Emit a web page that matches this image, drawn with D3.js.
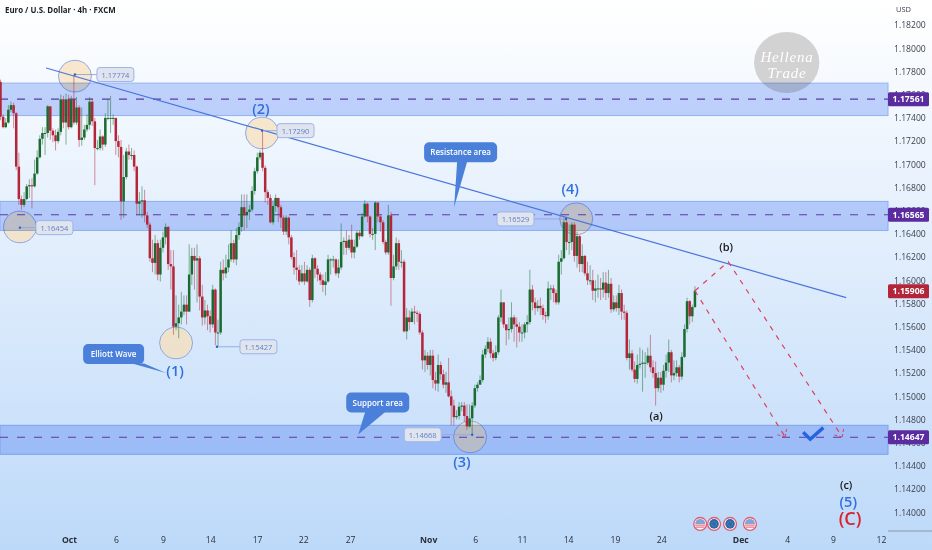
<!DOCTYPE html>
<html>
<head>
<meta charset="utf-8">
<style>
  html, body { margin: 0; padding: 0; background: #fff; overflow: hidden; }
  svg text { font-family: "Open Sans", sans-serif; }
</style>
<script src="https://d3js.org/d3.v7.min.js"></script>
</head>
<body>
<div id="chart"></div>
<script>
// candle values, one entry per 4h bar
const firstOpen = 1.1771;
const closes = [
  1.1741,1.1732,1.1736,1.1747,1.1751,1.1744,1.1698,1.1670,1.1665,1.1670,
  1.1681,1.1682,1.1681,1.1692,1.1706,1.1722,1.1727,1.1727,1.1750,1.1729,
  1.1725,1.1720,1.1728,1.1756,1.1736,1.1756,1.1732,1.1756,1.1736,1.1749,
  1.1721,1.1723,1.1730,1.1734,1.1754,1.1737,1.1714,1.1714,1.1724,1.1717,
  1.1740,1.1740,1.1740,1.1740,1.1720,1.1715,1.1668,1.1689,1.1711,1.1708,
  1.1708,1.1698,1.1666,1.1668,1.1669,1.1656,1.1648,1.1619,1.1615,1.1632,
  1.1605,1.1628,1.1637,1.1646,1.1614,1.1612,1.1560,1.1563,1.1568,1.1573,
  1.1579,1.1573,1.1605,1.1621,1.1617,1.1619,1.1586,1.1568,1.1574,1.1569,
  1.1562,1.1592,1.1555,1.1555,1.1609,1.1606,1.1611,1.1618,1.1632,1.1618,
  1.1639,1.1646,1.1663,1.1656,1.1659,1.1661,1.1677,1.1694,1.1706,1.1710,
  1.1697,1.1676,1.1671,1.1650,1.1664,1.1671,1.1663,1.1654,1.1642,1.1654,
  1.1637,1.1620,1.1611,1.1609,1.1599,1.1606,1.1599,1.1609,1.1583,1.1619,
  1.1610,1.1605,1.1600,1.1596,1.1599,1.1618,1.1618,1.1618,1.1606,1.1611,
  1.1633,1.1634,1.1628,1.1635,1.1624,1.1629,1.1641,1.1638,1.1655,1.1666,
  1.1655,1.1640,1.1640,1.1667,1.1655,1.1650,1.1633,1.1624,1.1656,1.1602,
  1.1612,1.1632,1.1616,1.1616,1.1556,1.1568,1.1564,1.1573,1.1572,1.1571,
  1.1555,1.1531,1.1535,1.1527,1.1535,1.1514,1.1511,1.1527,1.1519,1.1510,
  1.1512,1.1500,1.1492,1.1482,1.1483,1.1491,1.1492,1.1483,1.1474,1.1481,
  1.1492,1.1507,1.1510,1.1514,1.1536,1.1541,1.1547,1.1537,1.1533,1.1538,
  1.1568,1.1581,1.1562,1.1557,1.1558,1.1568,1.1562,1.1560,1.1555,1.1555,
  1.1562,1.1564,1.1592,1.1581,1.1576,1.1578,1.1576,1.1570,1.1569,1.1593,
  1.1593,1.1589,1.1581,1.1616,1.1619,1.1650,1.1633,1.1633,1.1648,1.1621,
  1.1638,1.1614,1.1621,1.1606,1.1600,1.1600,1.1591,1.1593,1.1593,1.1592,
  1.1598,1.1589,1.1597,1.1575,1.1581,1.1576,1.1589,1.1573,1.1572,1.1533,
  1.1537,1.1523,1.1515,1.1527,1.1528,1.1529,1.1529,1.1535,1.1525,1.1520,
  1.1507,1.1516,1.1510,1.1522,1.1529,1.1538,1.1518,1.1520,1.1525,1.1517,
  1.1534,1.1558,1.1582,1.1569,1.1577,1.1591
];
const highs = [
  1.1773,1.1743,1.1740,1.1751,1.1754,1.1753,1.1745,1.1710,1.1673,1.1676,
  1.1683,1.1687,1.1688,1.1704,1.1712,1.1725,1.1732,1.1732,1.1751,1.1747,
  1.1731,1.1730,1.1731,1.1760,1.1759,1.1761,1.1760,1.1759,1.1777,1.1758,
  1.1751,1.1749,1.1734,1.1743,1.1758,1.1757,1.1740,1.1721,1.1730,1.1725,
  1.1744,1.1756,1.1759,1.1743,1.1725,1.1725,1.1721,1.1708,1.1714,1.1717,
  1.1714,1.1712,1.1699,1.1676,1.1681,1.1678,1.1659,1.1650,1.1635,1.1639,
  1.1635,1.1635,1.1642,1.1649,1.1647,1.1626,1.1626,1.1587,1.1579,1.1590,
  1.1587,1.1587,1.1631,1.1628,1.1628,1.1631,1.1621,1.1596,1.1583,1.1579,
  1.1574,1.1596,1.1593,1.1566,1.1616,1.1618,1.1622,1.1631,1.1643,1.1635,
  1.1645,1.1650,1.1674,1.1674,1.1674,1.1665,1.1681,1.1697,1.1710,1.1712,
  1.1729,1.1699,1.1678,1.1674,1.1669,1.1674,1.1671,1.1665,1.1656,1.1656,
  1.1655,1.1639,1.1624,1.1626,1.1613,1.1613,1.1616,1.1613,1.1611,1.1622,
  1.1620,1.1613,1.1607,1.1605,1.1607,1.1622,1.1619,1.1621,1.1619,1.1618,
  1.1649,1.1637,1.1643,1.1639,1.1648,1.1635,1.1643,1.1643,1.1658,1.1669,
  1.1667,1.1656,1.1645,1.1668,1.1667,1.1656,1.1652,1.1635,1.1665,1.1659,
  1.1622,1.1637,1.1635,1.1626,1.1618,1.1576,1.1574,1.1576,1.1578,1.1574,
  1.1573,1.1557,1.1540,1.1538,1.1540,1.1540,1.1521,1.1536,1.1530,1.1523,
  1.1521,1.1533,1.1505,1.1497,1.1488,1.1495,1.1495,1.1495,1.1493,1.1493,
  1.1495,1.1510,1.1512,1.1518,1.1540,1.1544,1.1551,1.1550,1.1540,1.1544,
  1.1570,1.1592,1.1581,1.1562,1.1568,1.1581,1.1570,1.1568,1.1564,1.1562,
  1.1564,1.1570,1.1609,1.1596,1.1585,1.1583,1.1585,1.1579,1.1573,1.1599,
  1.1596,1.1596,1.1592,1.1622,1.1626,1.1654,1.1654,1.1648,1.1650,1.1650,
  1.1642,1.1639,1.1631,1.1622,1.1616,1.1613,1.1609,1.1600,1.1605,1.1602,
  1.1607,1.1607,1.1609,1.1602,1.1587,1.1587,1.1596,1.1592,1.1579,1.1574,
  1.1549,1.1540,1.1530,1.1536,1.1542,1.1540,1.1538,1.1542,1.1553,1.1531,
  1.1530,1.1521,1.1521,1.1527,1.1536,1.1549,1.1540,1.1531,1.1531,1.1527,
  1.1538,1.1562,1.1585,1.1583,1.1579,1.1595
];
const lows = [
  1.1738,1.1731,1.1731,1.1735,1.1745,1.1731,1.1695,1.1665,1.1661,1.1663,
  1.1669,1.1671,1.1662,1.1680,1.1691,1.1705,1.1717,1.1708,1.1723,1.1721,
  1.1719,1.1712,1.1718,1.1725,1.1731,1.1717,1.1730,1.1731,1.1734,1.1734,
  1.1715,1.1716,1.1721,1.1728,1.1730,1.1733,1.1682,1.1712,1.1712,1.1712,
  1.1715,1.1738,1.1727,1.1734,1.1708,1.1706,1.1652,1.1654,1.1687,1.1704,
  1.1704,1.1694,1.1656,1.1656,1.1654,1.1650,1.1645,1.1616,1.1607,1.1605,
  1.1600,1.1599,1.1624,1.1631,1.1609,1.1592,1.1553,1.1557,1.1550,1.1562,
  1.1570,1.1562,1.1573,1.1596,1.1592,1.1581,1.1574,1.1561,1.1562,1.1557,
  1.1555,1.1559,1.1544,1.1543,1.1553,1.1600,1.1602,1.1607,1.1616,1.1615,
  1.1613,1.1635,1.1642,1.1643,1.1645,1.1652,1.1659,1.1674,1.1692,1.1704,
  1.1694,1.1667,1.1665,1.1649,1.1648,1.1659,1.1650,1.1645,1.1639,1.1639,
  1.1631,1.1618,1.1605,1.1600,1.1596,1.1598,1.1596,1.1598,1.1577,1.1581,
  1.1602,1.1599,1.1596,1.1590,1.1587,1.1598,1.1605,1.1611,1.1604,1.1602,
  1.1609,1.1622,1.1622,1.1626,1.1619,1.1619,1.1628,1.1635,1.1637,1.1654,
  1.1650,1.1637,1.1635,1.1626,1.1650,1.1642,1.1631,1.1622,1.1622,1.1578,
  1.1600,1.1609,1.1609,1.1611,1.1555,1.1549,1.1557,1.1564,1.1562,1.1564,
  1.1553,1.1523,1.1521,1.1523,1.1518,1.1507,1.1505,1.1504,1.1514,1.1507,
  1.1503,1.1499,1.1475,1.1475,1.1480,1.1480,1.1487,1.1478,1.1471,1.1473,
  1.1467,1.1490,1.1504,1.1510,1.1512,1.1533,1.1538,1.1533,1.1530,1.1531,
  1.1536,1.1564,1.1559,1.1544,1.1549,1.1555,1.1547,1.1542,1.1547,1.1547,
  1.1550,1.1555,1.1562,1.1574,1.1570,1.1573,1.1570,1.1566,1.1563,1.1566,
  1.1583,1.1581,1.1579,1.1579,1.1605,1.1618,1.1626,1.1622,1.1626,1.1616,
  1.1611,1.1607,1.1607,1.1604,1.1596,1.1596,1.1583,1.1581,1.1585,1.1583,
  1.1585,1.1583,1.1585,1.1572,1.1573,1.1573,1.1570,1.1566,1.1566,1.1531,
  1.1523,1.1521,1.1512,1.1511,1.1524,1.1504,1.1516,1.1527,1.1521,1.1516,
  1.1492,1.1504,1.1503,1.1505,1.1516,1.1521,1.1512,1.1514,1.1517,1.1512,
  1.1514,1.1533,1.1555,1.1562,1.1564,1.1576
];

// price axis
const priceTicks = [1.14,1.142,1.144,1.146,1.148,1.15,1.152,1.154,1.156,1.158,1.16,1.162,1.164,1.166,1.168,1.17,1.172,1.174,1.176,1.178,1.18,1.182];
const lastPrice = 1.15906;

// time axis, bar positions of the date labels
const dateBars = [26.1,44.1,62,80,97.9,115.5,133.4,163.2,181.1,199,216.6,234.5,252.1,282.3,300.2,317.7,336];
const dateLabels = ["Oct","6","9","14","17","22","27","Nov","6","11","14","19","24","Dec","4","9","12"];
const monthLabels = ["Oct","Nov","Dec"];

// horizontal supply / demand areas
const zoneTops = [1.1770,1.1668,1.1475];
const zoneBottoms = [1.1742,1.1643,1.1450];
const zoneLevels = [1.17561,1.16565,1.14647];

// falling trendline
const trendBars = [17.4,322.7];
const trendPrices = [1.1783,1.1585];

// swing points with their price tags
const pivotBars = [28.4,7.4,82.6,99.8,180,215.8];
const pivotPrices = [1.17774,1.16454,1.15427,1.1729,1.14668,1.16529];
const ringBars = [28.4,7.4,67,99.8,179.2,219.7];
const ringPrices = [1.1776,1.1646,1.1546,1.1727,1.1465,1.1653];

// wave counts
const waveTexts = ["(1)","(2)","(3)","(4)","(5)","(a)","(b)","(c)","(C)"];
const waveBars = [66.6,99.4,176.1,217.4,323.5,250.2,276.9,322.7,324.2];
const wavePrices = [1.1522,1.1748,1.1443,1.1679,1.1409,1.1484,1.1630,1.1424,1.1393];

// projected path
const forecastBars = [265,277.7,321.2];
const forecastPrices = [1.1591,1.1616,1.1465];
const forecastBars2 = [265,299.4];
const forecastPrices2 = [1.1591,1.1465];
const checkBars = [306.3,309,314];
const checkPrices = [1.1469,1.1463,1.1473];

// callouts point at these spots
const calloutTexts = ["Elliott Wave","Resistance area","Support area"];
const calloutBars = [63.2,173.1,136.5];
const calloutPrices = [1.1520,1.1663,1.1467];

// economic event flags
const eventBars = [267,272.3,278.4,286];
const eventPrice = 1.1390;

const width = 932, height = 550, chartRight = 888;
const green = "#1a6b2f", red = "#b3263a", zoneLine = "#9cb8f4";

const x = d3.scaleLinear().domain([0, 336]).range([0.5, 881]);
const y = d3.scaleLinear().domain([1.14, 1.182]).range([512.3, 25.1]);

const svg = d3.select("#chart").append("svg")
  .attr("width", width)
  .attr("height", height)
  .style("display", "block");

const grad = svg.append("defs").append("linearGradient")
  .attr("id", "bg").attr("x1", 0).attr("x2", 0).attr("y1", 0).attr("y2", 1);
grad.append("stop").attr("offset", "0%").attr("stop-color", "#ffffff");
grad.append("stop").attr("offset", "100%").attr("stop-color", "#bdd9f9");

svg.append("rect").attr("width", width).attr("height", height).attr("fill", "url(#bg)");

// watermark
svg.append("ellipse")
  .attr("cx", 786.7).attr("cy", 62.5).attr("rx", 32.7).attr("ry", 30.5)
  .attr("fill", "#d2d2d2");
svg.selectAll(".mark").data(["Hellena", "Trade"]).enter().append("text")
  .attr("x", 787).attr("y", (d, i) => 62 + i * 16)
  .attr("text-anchor", "middle")
  .attr("fill", "#fff")
  .attr("font-size", 15)
  .attr("font-style", "italic")
  .attr("letter-spacing", 0.8)
  .style("font-family", "'Liberation Serif', serif")
  .text(d => d);

// rings go under the areas so the areas tint them
svg.selectAll(".ring").data(ringBars).enter().append("ellipse")
  .attr("cx", d => x(d))
  .attr("cy", (d, i) => y(ringPrices[i]))
  .attr("rx", 16.5).attr("ry", 15.8)
  .attr("fill", "#f8dfb8")
  .attr("fill-opacity", 0.72)
  .attr("stroke", "#8fa8e8");

// areas
zoneTops.forEach((top, i) => {
  svg.append("rect")
    .attr("x", 0).attr("width", chartRight)
    .attr("y", y(top))
    .attr("height", y(zoneBottoms[i]) - y(top))
    .attr("fill", "#c6d6fc")
    .attr("stroke", zoneLine)
    .attr("stroke-width", 1)
    .style("mix-blend-mode", "multiply");
  svg.append("line")
    .attr("x1", 0).attr("x2", chartRight)
    .attr("y1", y(zoneLevels[i])).attr("y2", y(zoneLevels[i]))
    .attr("stroke", "#5b3aa8")
    .attr("stroke-width", 1.2)
    .attr("stroke-dasharray", "8,9");
});

// wicks then bodies
const opens = closes.map((c, i) => i ? closes[i - 1] : firstOpen);
const candle = svg.selectAll(".candle").data(closes).enter().append("g");
candle.append("line")
  .attr("x1", (d, i) => x(i)).attr("x2", (d, i) => x(i))
  .attr("y1", (d, i) => y(highs[i])).attr("y2", (d, i) => y(lows[i]))
  .attr("stroke", (d, i) => d >= opens[i] ? green : red)
  .attr("stroke-opacity", 0.5)
  .attr("stroke-width", 1);
candle.append("rect")
  .attr("x", (d, i) => x(i) - 1.25)
  .attr("width", 2.5)
  .attr("y", (d, i) => y(Math.max(d, opens[i])))
  .attr("height", (d, i) => Math.max(1, Math.abs(y(d) - y(opens[i]))))
  .attr("fill", (d, i) => d >= opens[i] ? green : red);

// trendline
const line = d3.line().x(d => x(d[0])).y(d => y(d[1]));
svg.append("path")
  .attr("d", line(d3.zip(trendBars, trendPrices)))
  .attr("fill", "none")
  .attr("stroke", "#4a74dc")
  .attr("stroke-width", 1.2);

// projected legs
[[forecastBars, forecastPrices], [forecastBars2, forecastPrices2]].forEach(leg => {
  const pts = d3.zip(leg[0], leg[1]);
  svg.append("path")
    .attr("d", line(pts))
    .attr("fill", "none")
    .attr("stroke", "#e0405f")
    .attr("stroke-width", 1.2)
    .attr("stroke-dasharray", "5,6");
  // little open arrow at the end
  const a = pts[pts.length - 2], b = pts[pts.length - 1];
  const ang = Math.atan2(y(b[1]) - y(a[1]), x(b[0]) - x(a[0]));
  [-0.75, 0.75].forEach(o => {
    svg.append("line")
      .attr("x1", x(b[0])).attr("y1", y(b[1]))
      .attr("x2", x(b[0]) - 9 * Math.cos(ang + o))
      .attr("y2", y(b[1]) - 9 * Math.sin(ang + o))
      .attr("stroke", "#e0405f")
      .attr("stroke-dasharray", "3,2");
  });
});

svg.append("path")
  .attr("d", line(d3.zip(checkBars, checkPrices)))
  .attr("fill", "none")
  .attr("stroke", "#2563e0")
  .attr("stroke-width", 3.4);

// price tags on the swing points
const tagDx = [22, 16, 23, 15, -68, -69];
const tagW = 37, tagH = 14;
pivotBars.forEach((b, i) => {
  const px = x(b), py = y(pivotPrices[i]);
  const left = px + tagDx[i];
  svg.append("line")
    .attr("x1", px).attr("y1", py)
    .attr("x2", tagDx[i] > 0 ? left : left + tagW).attr("y2", py)
    .attr("stroke", "#8fa8d8")
    .attr("stroke-width", 0.9);
  svg.append("circle").attr("cx", px).attr("cy", py).attr("r", 1.2).attr("fill", "#2f5fd0");
  svg.append("rect")
    .attr("x", left).attr("y", py - tagH / 2)
    .attr("width", tagW).attr("height", tagH)
    .attr("rx", 3)
    .attr("fill", "#dfe4ee")
    .attr("stroke", "#9db5ea");
  svg.append("text")
    .attr("x", left + tagW / 2).attr("y", py + 3)
    .attr("text-anchor", "middle")
    .attr("font-size", 7.5)
    .attr("fill", "#5f82c4")
    .text(pivotPrices[i].toFixed(5));
});

// wave counts
const isSmall = d => d === "(a)" || d === "(b)" || d === "(c)";
svg.selectAll(".wave").data(waveTexts).enter().append("text")
  .attr("x", (d, i) => x(waveBars[i]))
  .attr("y", (d, i) => y(wavePrices[i]) + 5)
  .attr("text-anchor", "middle")
  .attr("font-weight", 600)
  .attr("font-size", d => d === "(C)" ? 18 : isSmall(d) ? 11 : 14.5)
  .attr("fill", d => d === "(C)" ? "#d8232a" : isSmall(d) ? "#1a1a1a" : "#2f6fe0")
  .text(d => d);

// callouts, box placed relative to the spot it points at
const boxX = [-83, -30, -12], boxW = [61, 73, 63], boxY = [-29, -65, -42], boxH = 20;
const tailA = [-34, 3, 7], tailB = [-22, 13, 27];
calloutTexts.forEach((t, i) => {
  const tx = x(calloutBars[i]), ty = y(calloutPrices[i]);
  const bottom = ty + boxY[i] + boxH - 0.5;
  svg.append("path")
    .attr("d", `M${tx + tailA[i]},${bottom}L${tx},${ty}L${tx + tailB[i]},${bottom}Z`)
    .attr("fill", "#4b80da");
  svg.append("rect")
    .attr("x", tx + boxX[i]).attr("y", ty + boxY[i])
    .attr("width", boxW[i]).attr("height", boxH)
    .attr("rx", 5)
    .attr("fill", "#4b80da");
  svg.append("text")
    .attr("x", tx + boxX[i] + boxW[i] / 2).attr("y", ty + boxY[i] + 13)
    .attr("text-anchor", "middle")
    .attr("font-size", 8)
    .attr("font-weight", 600)
    .attr("fill", "#fff")
    .text(t);
});

// event flags
eventBars.forEach((b, i) => {
  const g = svg.append("g").attr("transform", `translate(${x(b)},${y(eventPrice)})`);
  const us = i === 0 || i === 3;
  g.append("circle").attr("r", 6.4).attr("fill", "#fff").attr("stroke", "#df5a70").attr("stroke-width", 1.3);
  if (us) {
    g.append("path").attr("d", "M-5,0A5,5 0 0 1 5,0Z").attr("fill", "#7fa4d8");
    g.append("rect").attr("x", -5).attr("y", 0.7).attr("width", 10).attr("height", 1).attr("fill", "#e0566a");
    g.append("rect").attr("x", -4.3).attr("y", 2.7).attr("width", 8.6).attr("height", 1).attr("fill", "#e0566a");
  } else {
    g.append("circle").attr("r", 4.8).attr("fill", "#2b6aa8");
    g.append("circle").attr("r", 2.4).attr("fill", "none").attr("stroke", "#6f9ed0").attr("stroke-width", 0.7).attr("stroke-dasharray", "1,1");
  }
});

// axes
const yAxis = d3.axisRight(y).tickValues(priceTicks).tickSize(0).tickPadding(0).tickFormat(d3.format(".5f"));
const yG = svg.append("g").attr("transform", "translate(894,0)").call(yAxis);
yG.select(".domain").remove();
yG.selectAll("text")
  .attr("font-size", 8.6)
  .attr("fill", "#3a3f4a")
  .style("font-family", "'Open Sans', sans-serif");

const xAxis = d3.axisBottom(x).tickValues(dateBars).tickSize(0).tickPadding(0)
  .tickFormat((d, i) => dateLabels[i]);
const xG = svg.append("g").attr("transform", "translate(0,537)").call(xAxis);
xG.select(".domain").remove();
xG.selectAll("text")
  .attr("font-size", 8.6)
  .attr("fill", "#2a2e39")
  .attr("font-weight", (d, i) => monthLabels.includes(dateLabels[i]) ? 700 : 400)
  .style("font-family", "'Open Sans', sans-serif");

svg.append("line")
  .attr("x1", 888).attr("x2", width).attr("y1", 531).attr("y2", 531)
  .attr("stroke", "#8a96a8");

// last price tags on the scale
const tagPrices = zoneLevels.concat([lastPrice]);
tagPrices.forEach(p => {
  svg.append("rect")
    .attr("x", 888).attr("y", y(p) - 7)
    .attr("width", 41).attr("height", 14)
    .attr("rx", 1.5)
    .attr("fill", p === lastPrice ? "#b3263a" : "#5a2ca0");
  svg.append("text")
    .attr("x", 908.5).attr("y", y(p) + 3)
    .attr("text-anchor", "middle")
    .attr("font-size", 8.6)
    .attr("font-weight", 700)
    .attr("fill", "#fff")
    .text(p.toFixed(5));
});

svg.append("rect").attr("x", 890).attr("y", 2).attr("width", 42).attr("height", 15).attr("fill", "#fff");
svg.append("text")
  .attr("x", 896).attr("y", 12)
  .attr("font-size", 7.5)
  .attr("fill", "#3a3f4a")
  .text("USD");

// title
svg.append("text")
  .attr("x", 5).attr("y", 12.5)
  .attr("font-size", 7.9)
  .attr("font-weight", 700)
  .attr("fill", "#1c1f26")
  .text("Euro / U.S. Dollar · 4h · FXCM");
</script>
</body>
</html>
